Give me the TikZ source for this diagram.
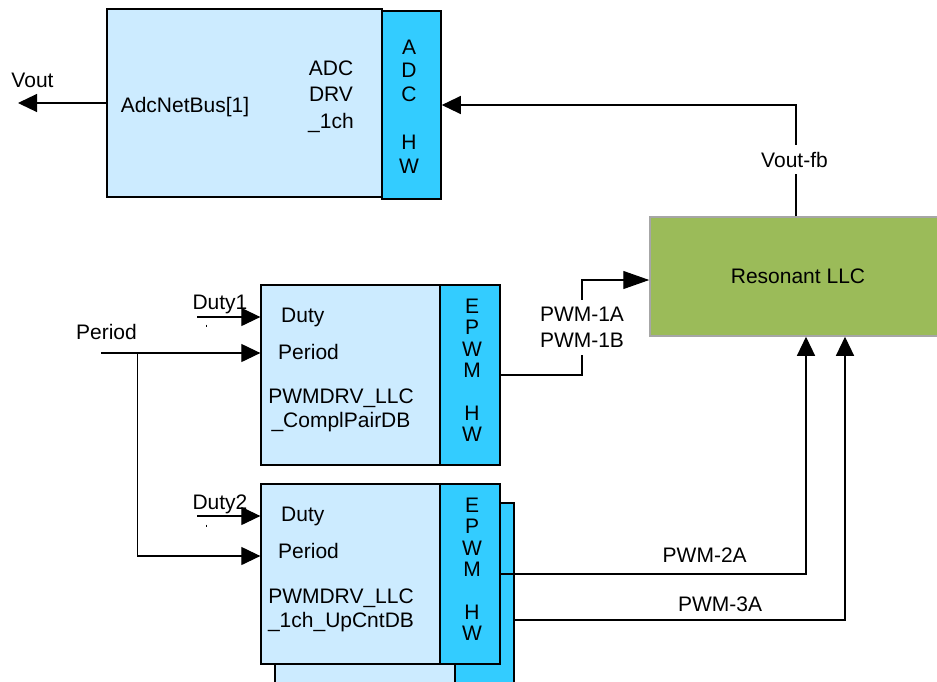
\documentclass[tikz,border=0pt]{standalone}
\usepackage{fontspec}
\setmainfont{Liberation Sans}
\usetikzlibrary{arrows.meta,positioning}
\definecolor{drvblue}{HTML}{CCEBFF}
\definecolor{hwcyan}{HTML}{33CCFF}
\definecolor{llcgreen}{HTML}{9BBB59}
\definecolor{llcedge}{HTML}{A6A6A6}
\tikzset{
  drvbox/.style={draw=black, fill=drvblue, line width=1.3pt, inner sep=0pt},
  hwbox/.style={draw=black, fill=hwcyan, line width=1.6pt, inner sep=0pt},
  txt/.style={font=\fontsize{21}{24}\selectfont, inner sep=0pt, align=center},
  hwtxt/.style={font=\fontsize{21}{#1}\selectfont, inner sep=0pt, align=center},
  hwtxt/.default=21.3,
  sig/.style={-{Triangle[length=19pt,width=18pt]}, line width=1.2pt},
}

\begin{document}
\begin{tikzpicture}[x=1pt, y=-1pt]
\useasboundingbox (0,0) rectangle (937,681);
\clip (0,0) rectangle (937,681);

% ADC driver
\node[drvbox, minimum width=275pt, minimum height=188pt] (adc) at (244.5,103) {};
\node[hwbox, minimum width=59pt, minimum height=188pt] (adchw) at (411.5,105) {};
\node[txt, anchor=base] (adcbus) at (185,112.5) {AdcNetBus[1]};
\node[txt, font=\fontsize{21}{26.5}\selectfont, anchor=north] (adcname) at (331,60.5) {ADC\\DRV\\\_1ch};
\node[hwtxt=23.8, anchor=north] (adchwtxt) at (409,39.5) {A\\D\\C\\[23.8pt]H\\W};

% LLC stage
\node[draw=llcedge, fill=llcgreen, line width=1.5pt, inner sep=0pt,
      minimum width=292pt, minimum height=119pt] (llc) at (796,276.5) {};
\node[txt, anchor=base] (llctxt) at (798,283) {Resonant LLC};

% PWM driver 1
\node[drvbox, minimum width=179pt, minimum height=180pt] (pwm1) at (350.5,375) {};
\node[hwbox, minimum width=60pt, minimum height=180pt] (ep1) at (470,375) {};
\node[txt, anchor=base west] (duty1in) at (281,322) {Duty};
\node[txt, anchor=base west] (per1in) at (278,359) {Period};
\node[txt, anchor=north] (pwm1name) at (341,389) {PWMDRV\_LLC\\\_ComplPairDB};
\node[hwtxt, anchor=north] (ep1txt) at (472,299) {E\\P\\W\\M\\[21.3pt]H\\W};

% PWM driver 2 (stacked copy behind)
\node[drvbox, minimum width=180pt, minimum height=190pt] (pwm2b) at (365,598) {};
\node[hwbox, minimum width=59pt, minimum height=190pt] (ep2b) at (484.5,598) {};
\node[drvbox, minimum width=179pt, minimum height=180pt] (pwm2) at (350.5,574) {};
\node[hwbox, minimum width=60pt, minimum height=180pt] (ep2) at (470,574) {};
\node[txt, anchor=base west] (duty2in) at (281,521) {Duty};
\node[txt, anchor=base west] (per2in) at (278,558) {Period};
\node[txt, anchor=north] (pwm2name) at (341,589) {PWMDRV\_LLC\\\_1ch\_UpCntDB};
\node[hwtxt, anchor=north] (ep2txt) at (472,498) {E\\P\\W\\M\\[21.3pt]H\\W};

% inputs
\coordinate (duty1src) at (197,317);
\coordinate (duty2src) at (197,516);
\coordinate (persrc) at (101,353);
\coordinate (perbr) at (137.5,353);
\coordinate (per2lvl) at (0,556);
\draw[sig] (duty1src) -- (duty1src -| pwm1.west);
\draw[sig] (duty2src) -- (duty2src -| pwm2.west);
\draw[sig] (persrc) -- (persrc -| pwm1.west);
\draw[sig] (perbr) |- (pwm2.west |- per2lvl);
\node[txt, anchor=base] (duty1lbl) at (220,309) {Duty1};
\node[txt, anchor=base] (duty2lbl) at (220,509) {Duty2};
\node[txt, anchor=base] (perlbl) at (106.5,339) {Period};
\draw[line width=0.8pt] (206.7,324.5) -- ++(0,2);
\draw[line width=0.8pt] (206.5,524.5) -- ++(0,2);

% outputs
\coordinate (voutend) at (18,103);
\draw[sig] (adc.west) -- (voutend);
\node[txt, anchor=base] (voutlbl) at (32.5,87) {Vout};

\draw[sig] (llc.north) |- (adchw.east);
\node[txt, fill=white, inner xsep=2pt, inner ysep=7pt, anchor=base] (fblbl) at (794.5,167) {Vout-fb};

\coordinate (p1bend) at (582,280);
\draw[-{Triangle[length=26pt,width=18pt]}, line width=1.2pt] (ep1.east) -| (p1bend) -- (p1bend -| llc.west);
\node[txt, fill=white, inner xsep=2pt, inner ysep=7pt, font=\fontsize{21}{26}\selectfont] (p1lbl) at (582,327.5) {PWM-1A\\PWM-1B};

\coordinate (p2x) at (806,0);
\draw[sig] (ep2.east) -| (llc.south -| p2x);
\node[txt, anchor=base] (p2lbl) at (704.7,562.7) {PWM-2A};

\coordinate (p3lvl) at (845,620);
\draw[sig] (ep2b.east |- p3lvl) -| (llc.south -| p3lvl);
\node[txt, anchor=base] (p3lbl) at (720,611.7) {PWM-3A};
\end{tikzpicture}
\end{document}
